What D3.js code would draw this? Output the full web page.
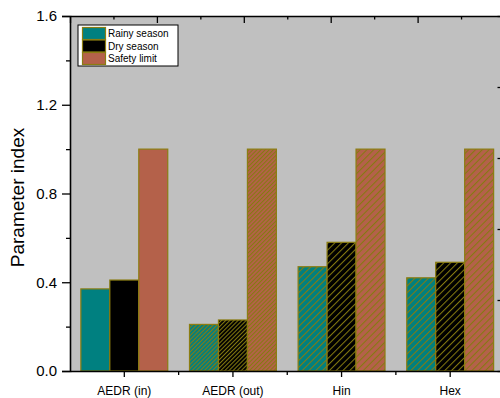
<!DOCTYPE html>
<html><head><meta charset="utf-8">
<script src="https://cdn.jsdelivr.net/npm/d3@7"></script>
<style>body{margin:0;background:#fff}svg{display:block;font-family:"Liberation Sans",Arial,sans-serif}</style>
</head><body><svg id="c" width="500" height="398"></svg>
<script>
const categories = ["AEDR (in)", "AEDR (out)", "Hin", "Hex"];
const seriesNames = ["Rainy season", "Dry season", "Safety limit"];
const rainy = [0.37, 0.21, 0.47, 0.42];
const dry = [0.41, 0.23, 0.58, 0.49];
const safety = [1.0, 1.0, 1.0, 1.0];
const yTicks = [0, 0.4, 0.8, 1.2, 1.6];
const yMinor = [0.2, 0.6, 1.0, 1.4];

const colors = ["#008080", "#000000", "#B4614A"];
const hatchByCat = ["none", "dense", "sparse", "sparse"];
const edge = "#8B7D12";

(function () {
const L = 70, R = 504.5, T = 16, B = 371;
const svg = d3.select("#c");
const defs = svg.append("defs");

function makePattern(id, col, gap) {
  const p = defs.append("pattern").attr("id", id).attr("patternUnits", "userSpaceOnUse")
    .attr("width", gap).attr("height", gap).attr("patternTransform", "rotate(45)");
  p.append("rect").attr("width", gap).attr("height", gap).attr("fill", col);
  p.append("line").attr("x1", 0.5).attr("y1", 0).attr("x2", 0.5).attr("y2", gap)
    .attr("stroke", "#857A10").attr("stroke-width", 1.1);
}
colors.forEach((c, i) => { makePattern("dense" + i, c, 2.9); makePattern("sparse" + i, c, 4.8); });

const x0 = d3.scaleBand().domain(categories).range([L, R]).paddingInner(0.2).paddingOuter(0.1);
const x1 = d3.scaleBand().domain(seriesNames).range([0, x0.bandwidth()]);
const y = d3.scaleLinear().domain([0, 1.6]).range([B, T]);

svg.append("rect").attr("x", L).attr("y", T).attr("width", R - L).attr("height", B - T).attr("fill", "#C0C0C0");

const data = categories.map((c, i) => ({ cat: c, idx: i, vals: [rainy[i], dry[i], safety[i]] }));
const g = svg.append("g");
data.forEach(d => {
  d.vals.forEach((v, s) => {
    const h = hatchByCat[d.idx];
    g.append("rect")
      .attr("x", x0(d.cat) + x1(seriesNames[s]))
      .attr("y", y(v))
      .attr("width", x1.bandwidth())
      .attr("height", y(0) - y(v))
      .attr("fill", h === "none" ? colors[s] : `url(#${h}${s})`)
      .attr("stroke", edge).attr("stroke-width", 1.2);
  });
});

const axStyle = sel => { sel.select(".domain").attr("stroke", "#000").attr("stroke-width", 1.6);
  sel.selectAll(".tick line").attr("stroke", "#000").attr("stroke-width", 1.3); };

const leftAx = svg.append("g").attr("transform", `translate(${L},0)`)
  .call(d3.axisLeft(y).tickValues(yTicks).tickFormat(d3.format(".1f")).tickSize(8).tickPadding(5));
leftAx.call(axStyle);
leftAx.selectAll("text").attr("font-size", 15).attr("fill", "#000").attr("font-family", "Liberation Sans, Arial");
svg.append("g").attr("transform", `translate(${L},0)`)
  .call(d3.axisLeft(y).tickValues(yMinor).tickFormat("").tickSize(4)).call(axStyle)
  .select(".domain").remove();

const bottomAx = svg.append("g").attr("transform", `translate(0,${B})`)
  .call(d3.axisBottom(x0).tickSize(6).tickSizeOuter(0).tickPadding(9));
bottomAx.call(axStyle);
bottomAx.selectAll("text").attr("font-size", 12).attr("fill", "#000").attr("font-family", "Liberation Sans, Arial");
const minorX = categories.slice(0, -1).map(c => x0(c) + x0.bandwidth() / 2 + x0.step() / 2);
svg.append("g").selectAll("line").data(minorX).join("line")
  .attr("x1", d => d).attr("x2", d => d).attr("y1", B).attr("y2", B + 4)
  .attr("stroke", "#000").attr("stroke-width", 1.3);

const xt = d3.scaleLinear().domain([0, 10]).range([L, R]);
const topAx = svg.append("g").attr("transform", `translate(0,${T})`)
  .call(d3.axisTop(xt).tickValues([0, 2, 4, 6, 8, 10]).tickFormat("").tickSize(-7).tickSizeOuter(0));
topAx.call(axStyle);
svg.append("g").attr("transform", `translate(0,${T})`)
  .call(d3.axisTop(xt).tickValues([1, 3, 5, 7, 9]).tickFormat("").tickSize(-3.5)).call(axStyle)
  .select(".domain").remove();

const yr = d3.scaleLinear().domain([0, 5]).range([B, T]);
svg.append("g").attr("transform", `translate(${R},0)`)
  .call(d3.axisRight(yr).ticks(5).tickFormat("").tickSize(-7).tickSizeOuter(0)).call(axStyle);

svg.append("text").attr("transform", `translate(24,${(T + B) / 2 + 4}) rotate(-90)`)
  .attr("text-anchor", "middle").attr("font-size", 19).text("Parameter index");

const lg = svg.append("g");
lg.append("rect").attr("x", 78).attr("y", 25).attr("width", 100).attr("height", 41)
  .attr("fill", "#fff").attr("stroke", "#000").attr("stroke-width", 1);
seriesNames.forEach((n, i) => {
  lg.append("rect").attr("x", 82.5).attr("y", 27.5 + i * 12.5).attr("width", 23).attr("height", 12)
    .attr("fill", colors[i]).attr("stroke", edge).attr("stroke-width", 1.2);
  lg.append("text").attr("x", 108).attr("y", 37 + i * 12.5).attr("font-size", 10).text(n);
});
})();
</script></body></html>
